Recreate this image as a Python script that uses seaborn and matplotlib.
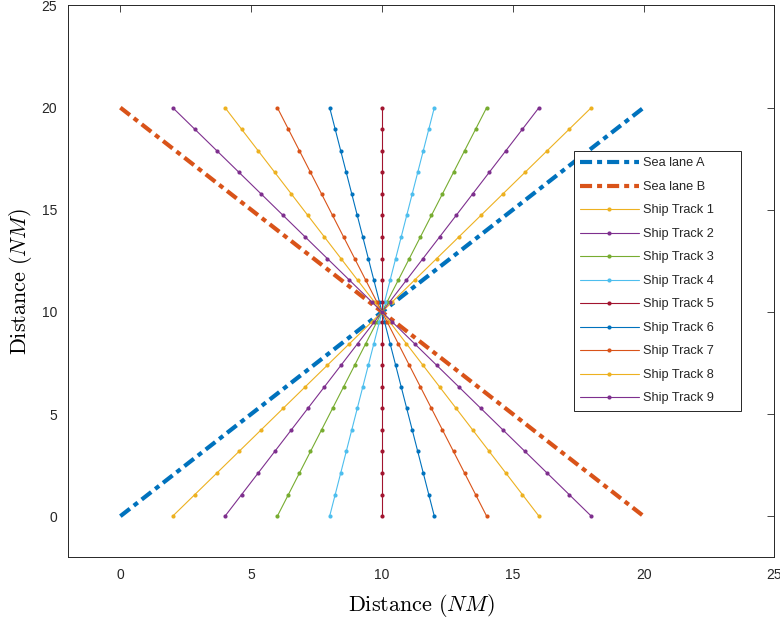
import numpy as np
import pandas as pd
import matplotlib
matplotlib.use("Agg")
import matplotlib.pyplot as plt
import seaborn as sns

# Sea lanes (end points) and ship tracks (start x at y=0, end x at y=20)
lane_a_x = [0, 20]
lane_a_y = [0, 20]
lane_b_x = [0, 20]
lane_b_y = [20, 0]
track_start_x = [2, 4, 6, 8, 10, 12, 14, 16, 18]
track_end_x = [18, 16, 14, 12, 10, 8, 6, 4, 2]
track_y = [0, 1.0556, 2.1111, 3.1667, 4.2222, 5.2778, 6.3333, 7.3889, 8.4444, 9.5,
           10,
           10.5, 11.5556, 12.6111, 13.6667, 14.7222, 15.7778, 16.8333, 17.8889, 18.9444, 20]
track_labels = ["Ship Track %d" % i for i in range(1, 10)]

matlab_colors = ["#0072BD", "#D95319", "#EDB120", "#7E2F8E", "#77AC30",
                 "#4DBEEE", "#A2142F"]
track_colors = [matlab_colors[(i + 2) % 7] for i in range(9)]

sns.set_theme(style="white")
plt.rcParams["font.family"] = ["Liberation Sans", "DejaVu Sans"]
plt.rcParams["mathtext.fontset"] = "cm"

fig = plt.figure(figsize=(7.8, 6.23), dpi=100)
ax = fig.add_axes([0.0872, 0.1059, 0.9057, 0.8853])

dash = (0, (2.9, 1.2, 1.2, 1.2))
sns.lineplot(x=lane_a_x, y=lane_a_y, ax=ax, color=matlab_colors[0], lw=3,
             linestyle=dash, dash_capstyle="butt", label="Sea lane A",
             sort=False, estimator=None)
sns.lineplot(x=lane_b_x, y=lane_b_y, ax=ax, color=matlab_colors[1], lw=3,
             linestyle=dash, dash_capstyle="butt", label="Sea lane B",
             sort=False, estimator=None)

ty = np.array(track_y)
for x0, x1, lab, col in zip(track_start_x, track_end_x, track_labels, track_colors):
    tx = x0 + (x1 - x0) * ty / 20.0
    df = pd.DataFrame({"x": tx, "y": ty})
    sns.lineplot(data=df, x="x", y="y", ax=ax, color=col, lw=0.8, marker="o",
                 markersize=3, markeredgewidth=0, label=lab,
                 sort=False, estimator=None)

ax.set_xlim(-2, 25)
ax.set_ylim(-2, 25)
ax.set_xticks([0, 5, 10, 15, 20, 25])
ax.set_yticks([0, 5, 10, 15, 20, 25])
ax.tick_params(direction="in", length=5, width=0.6, colors="#262626",
               labelsize=10, top=True, right=True, pad=8)
for s in ax.spines.values():
    s.set_color("#262626")
    s.set_linewidth(0.7)

ax.set_xlabel(r"$\mathrm{Distance}\ (NM)$", fontsize=16, color="#000000", labelpad=7)
ax.set_ylabel(r"$\mathrm{Distance}\ (NM)$", fontsize=16, color="#000000", labelpad=5)

# trailing spaces widen the box like the reference legend
labels_pad = "      "
handles, labels = ax.get_legend_handles_labels()
leg = ax.legend(handles, [l + labels_pad for l in labels],
                loc="upper right", bbox_to_anchor=(0.9526, 0.736), borderaxespad=0,
                fontsize=9.2, handlelength=4.6, handletextpad=0.3,
                labelspacing=0.9, borderpad=0.5, frameon=True, fancybox=False,
                framealpha=1)
leg.get_frame().set_edgecolor("#262626")
leg.get_frame().set_linewidth(0.7)

fig.savefig("out.png", dpi=100)
